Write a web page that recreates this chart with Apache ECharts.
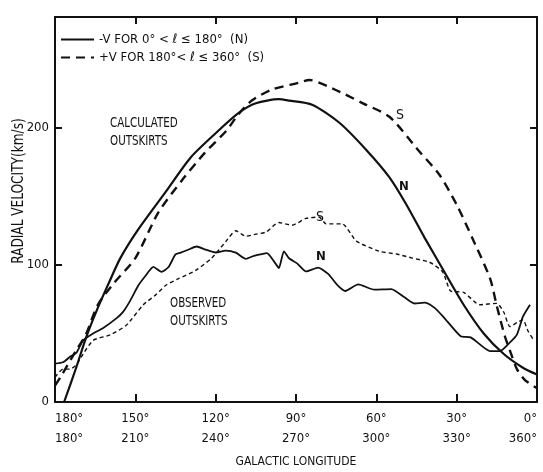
<!DOCTYPE html>
<html>
<head>
<meta charset="utf-8">
<script src="https://cdn.jsdelivr.net/npm/echarts@6/dist/echarts.min.js"></script>
<style>
html,body{margin:0;padding:0;background:#fff;}
#chart{width:543px;height:472px;}
</style>
</head>
<body>
<div id="chart"></div>
<script>
// ---- data (galactic longitude in degrees, radial velocity in km/s) ----
const calcN_lon = [176.6,172.1,168.4,164.6,160.1,155.6,148.9,138.8,129.1,119,111.4,105,96.4,92.6,84,73.9,63.75,55.1,48.75,42,34.9,27.4,19.9,12.4,5.25,0];
const calcN_vel = [0,25,47,66,86,105,126,153,179,198,211,218,221,220,217,204,184,164,144,120,96,71,50,35,25,20];

const calcS_lon = [180,178,172,168.5,164,157.9,150,141.5,132.5,124,116,111.5,106.5,99,89,85,76.5,65,55,44,36.5,30,24,17.5,15,12,10,7.5,4.5,0];
const calcS_vel = [12,18,38,49,71,87,105,138,162,182,198,210,220,228,233,235,229,218,208,183,166,144,119,90,70,48,37,24,16,10];

const obsN_lon = [180,177,174.4,172,169.5,165.75,162,157.1,154.5,151.9,148.9,146.25,143.25,140.25,137.6,135,132.75,130.1,127.1,123.75,120,116.25,112.5,108.75,105.75,102.75,100.9,97.5,96.4,94.5,92.6,89.6,86.25,81.75,78,74.25,71.6,66.75,60.75,54.4,49.5,45.75,42,38.25,34.9,28.5,24.75,17.6,13.9,10.1,7.5,5.25,2.6];
const obsN_vel = [28,29,33,36,45,50,54,61,66,74,85,92,98.6,95,98.5,107.7,109.2,111.3,113.5,111.2,109.1,110.5,109,104.5,106.7,108,108.6,100.6,97.7,110,104.9,101.2,95.3,98.1,93.5,84.7,81,85.8,82,82.4,76.4,71.9,72.5,68.7,62,48,47.2,37.2,37.1,43.5,49.2,62.3,71];

const obsS_lon = [180,177,174.4,172.1,169.5,165.75,159.4,153.4,147,142.5,138.75,133.9,127.5,121.5,116.25,112.5,108.75,105,101.25,96.4,91.5,86.25,81.4,78.75,72.75,67.5,58.9,52.5,46.5,40.1,35.25,32.25,27.4,21.4,15,12.4,10.1,7.5,5.25,3.4,1.5];
const obsS_vel = [18,24,24,27,35,45,49,56,71,78,85,90,96,105,117,125,121,122.5,124,131,129,134,135,130,130,117.5,110,108,105,102,95,81,80,71,72,65.5,55,58,60,52,46];

const lonTicksN = [180,150,120,90,60,30,0];          // upper label row
const lonTicksS = {180:180,150:210,120:240,90:270,60:300,30:330,0:360}; // lower label row
const velTicks = [0,100,200];

const NAME_N = '-V FOR 0° < ℓ ≤ 180°  (N)';
const NAME_S = '+V FOR 180°< ℓ ≤ 360°  (S)';

const FONT = '"Liberation Sans Narrow","DejaVu Sans Condensed","Liberation Sans",sans-serif';
const INK = '#111';

function pairs(xs, ys){ return xs.map((x,i)=>[x, ys[i]]); }

const chart = echarts.init(document.getElementById('chart'), null, {renderer:'canvas'});

const axLine = {show:true, onZero:false, lineStyle:{color:INK, width:2}};
const tickIn = {show:true, inside:true, length:7, lineStyle:{color:INK, width:2}};

const option = {
  backgroundColor:'#fff',
  animation:false,
  textStyle:{fontFamily:FONT, color:INK},
  grid:{left:55, right:6, top:17, bottom:70, containLabel:false, outerBoundsMode:'none'},
  legend:{
    data:[NAME_N, NAME_S],
    orient:'vertical',
    left:55, top:28,
    itemWidth:33, itemHeight:12, itemGap:5,
    itemStyle:{opacity:0},
    textStyle:{fontFamily:FONT, fontSize:13, color:INK},
    selectedMode:false
  },
  xAxis:[{
    type:'value', min:0, max:180, interval:30, inverse:true,
    position:'bottom',
    name:'GALACTIC LONGITUDE', nameLocation:'middle', nameGap:54,
    nameTextStyle:{fontFamily:FONT, fontSize:12, color:INK},
    axisLine:axLine,
    axisTick:Object.assign({}, tickIn, {length:8}),
    splitLine:{show:false},
    axisLabel:{
      margin:7, fontFamily:FONT, fontSize:13, color:INK, lineHeight:20,
      alignMinLabel:'right', alignMaxLabel:'left',
      formatter:(v)=> lonTicksN.includes(v) ? (v+'°\n'+lonTicksS[v]+'°') : ''
    }
  },{
    type:'value', min:0, max:180, interval:30, inverse:true,
    position:'top',
    axisLine:axLine,
    axisTick:tickIn,
    axisLabel:{show:false}, splitLine:{show:false}
  }],
  yAxis:[{
    type:'value', min:0, max:281, interval:100,
    position:'left',
    axisLine:axLine,
    axisTick:tickIn,
    splitLine:{show:false},
    showMaxLabel:false,
    axisLabel:{margin:6, fontFamily:FONT, fontSize:13, color:INK,
      formatter:(v)=> velTicks.includes(v) ? String(v) : ''}
  },{
    type:'value', min:0, max:281, interval:100, position:'right',
    axisLine:axLine,
    axisTick:tickIn,
    axisLabel:{show:false}, splitLine:{show:false}
  }],
  series:[
    {name:NAME_N, type:'line', data:pairs(calcN_lon, calcN_vel), smooth:0.25, symbol:'none',
     lineStyle:{color:INK, width:2.2, type:'solid'}, itemStyle:{color:INK}},
    {name:NAME_S, type:'line', data:pairs(calcS_lon, calcS_vel), smooth:0.25, symbol:'none',
     lineStyle:{color:INK, width:2.4, type:[9,6]}, itemStyle:{color:INK}},
    {name:NAME_N, type:'line', data:pairs(obsN_lon, obsN_vel), smooth:0.2, symbol:'none',
     lineStyle:{color:INK, width:1.8, type:'solid'}, itemStyle:{color:INK}},
    {name:NAME_S, type:'line', data:pairs(obsS_lon, obsS_vel), smooth:0.2, symbol:'none',
     lineStyle:{color:INK, width:1.4, type:[4,3]}, itemStyle:{color:INK}}
  ],
  graphic:[
    {type:'text', left:110, top:114, scaleX:0.82, style:{text:'CALCULATED\nOUTSKIRTS', font:'14px '+FONT, fill:INK, lineHeight:18}},
    {type:'text', left:170, top:294, scaleX:0.82, style:{text:'OBSERVED\nOUTSKIRTS', font:'14px '+FONT, fill:INK, lineHeight:18}},
    {type:'text', left:396, top:108, style:{text:'S', font:'14px '+FONT, fill:INK}},
    {type:'text', left:399, top:180, style:{text:'N', font:'bold 13px '+FONT, fill:INK}},
    {type:'text', left:316, top:210, style:{text:'S', font:'14px '+FONT, fill:INK}},
    {type:'text', left:316, top:250, style:{text:'N', font:'bold 13px '+FONT, fill:INK}},
    {type:'text', x:19, y:191, rotation:Math.PI/2, scaleX:0.9,
     style:{text:'RADIAL VELOCITY(km/s)', font:'15px '+FONT, fill:INK, textAlign:'center', textVerticalAlign:'middle'}}
  ]
};
chart.setOption(option);
</script>
</body>
</html>
